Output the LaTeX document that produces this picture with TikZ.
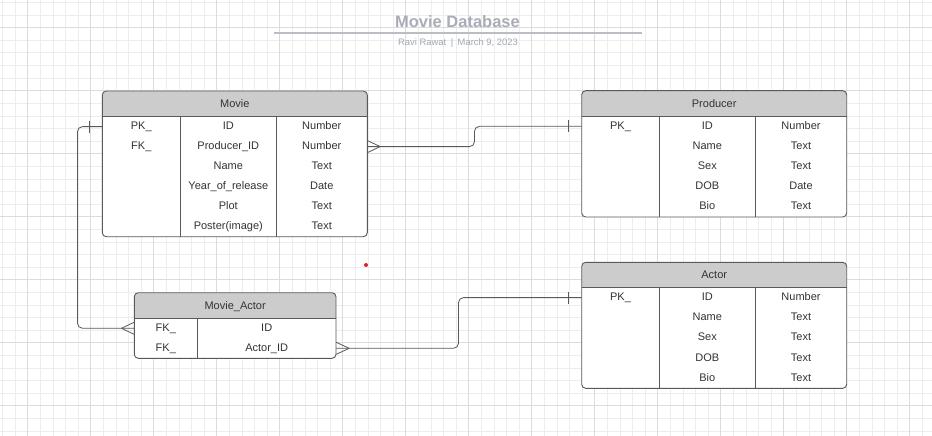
\documentclass[tikz,border=0pt]{standalone}
\usepackage{fontspec}
\setmainfont{Liberation Sans}
\usetikzlibrary{calc,fit}
\definecolor{gridminor}{HTML}{EDEDED}
\definecolor{gridmajor}{HTML}{DCDCDC}
\definecolor{hdr}{HTML}{CCCCCC}
\definecolor{edge}{HTML}{595959}
\definecolor{txt}{HTML}{333333}
\definecolor{ttl}{HTML}{A8ADB6}
\definecolor{ttlrule}{HTML}{B9BDC4}
\definecolor{subttl}{HTML}{A3A7AE}
\definecolor{dotred}{HTML}{E51E1E}
\tikzset{
  cell/.style={text=txt, font=\fontsize{11}{13}\selectfont, anchor=base, inner sep=0pt},
  conn/.style={draw=edge, line width=0.8pt},
  tblline/.style={draw=edge, line width=0.8pt},
  tblbox/.style={draw=edge, line width=0.9pt, rounded corners=4pt},
  minorgrid/.style={draw=gridminor, line width=0.8pt},
  majorgrid/.style={draw=gridmajor, line width=0.9pt},
}
% name, L, T, R, B, header bottom, dividers, title
\newcommand\ertable[8]{%
  \coordinate (#1-nw) at (#2,#3);
  \coordinate (#1-se) at (#4,#5);
  \node[fit=(#1-nw)(#1-se), inner sep=0pt] (#1) {};
  \fill[white, rounded corners=4pt] (#2,#3) rectangle (#4,#5);
  \begin{scope}
    \clip[rounded corners=4pt] (#2,#3) rectangle (#4,#5);
    \fill[hdr] (#2,#3) rectangle (#4,#6);
  \end{scope}
  \draw[tblline] (#2,#6) -- (#4,#6);
  \foreach \d in {#7} {\draw[tblline] (\d,#6) -- (\d,#5);}
  \draw[tblbox] (#2,#3) rectangle (#4,#5);
  \node[cell] (#1-title) at ({(#2+#4)/2},{(#3+#6)/2+4}) {#8};
}
\begin{document}
\begin{tikzpicture}[x=1pt,y=-1pt]
\useasboundingbox (0,0) rectangle (932,436);
\fill[white] (0,0) rectangle (932,436);
% grid
\foreach \k in {0,...,73} {\draw[minorgrid] ({2.5+12.6*\k},0) -- ({2.5+12.6*\k},436);}
\foreach \k in {0,...,34} {\draw[minorgrid] (0,{2.5+12.6*\k}) -- (932,{2.5+12.6*\k});}
\foreach \k in {0,...,14} {\draw[majorgrid] ({27.5+63*\k},0) -- ({27.5+63*\k},436);}
\foreach \k in {0,...,6} {\draw[majorgrid] (0,{27.5+63*\k}) -- (932,{27.5+63*\k});}

% title block
\node[font=\bfseries\fontsize{16.5}{19}\selectfont, text=ttl, anchor=base, inner sep=0pt] (title) at (457.5,27.6) {Movie Database};
\draw[ttlrule, line width=2pt] (274,32.7) -- (641.7,32.7);
\node[font=\fontsize{9.4}{11}\selectfont, text=subttl, anchor=base, inner sep=0pt] (subtitle) at (458,46) {Ravi Rawat\hspace{4.5pt}|\hspace{4.5pt}March 9, 2023};

% tables
\ertable{movie}{102.3}{91}{367.3}{236.7}{116}{180.3,276.3}{Movie}
\ertable{producer}{581.7}{90.7}{846.7}{217}{116.7}{659.3,755.3}{Producer}
\ertable{actor}{581.7}{262.3}{846.7}{388.3}{287.3}{659.3,755.3}{Actor}
\ertable{movieactor}{134.3}{292.7}{336}{358.3}{318.3}{197.3}{Movie\_Actor}

% Movie rows
\foreach \b/\c [count=\i] in {ID/Number, Producer\_ID/Number, Name/Text, Year\_of\_release/Date, Plot/Text, Poster(image)/Text} {
  \node[cell] (movie-b\i) at (228.3,{116+20.1*(\i-0.5)+3}) {\b};
  \node[cell] (movie-c\i) at (321.8,{116+20.1*(\i-0.5)+3}) {\c};
}
\node[cell] (movie-a1) at (141.3,{116+20.1*0.5+3}) {PK\_};
\node[cell] (movie-a2) at (141.3,{116+20.1*1.5+3}) {FK\_};

% Producer rows
\foreach \b/\c [count=\i] in {ID/Number, Name/Text, Sex/Text, DOB/Date, Bio/Text} {
  \node[cell] (producer-b\i) at (707.3,{116.7+20.06*(\i-0.5)+3}) {\b};
  \node[cell] (producer-c\i) at (801,{116.7+20.06*(\i-0.5)+3}) {\c};
}
\node[cell] (producer-a1) at (620.5,{116.7+20.06*0.5+3}) {PK\_};

% Actor rows
\foreach \b/\c [count=\i] in {ID/Number, Name/Text, Sex/Text, DOB/Text, Bio/Text} {
  \node[cell] (actor-b\i) at (707.3,{287.3+20.2*(\i-0.5)+3}) {\b};
  \node[cell] (actor-c\i) at (801,{287.3+20.2*(\i-0.5)+3}) {\c};
}
\node[cell] (actor-a1) at (620.5,{287.3+20.2*0.5+3}) {PK\_};

% Movie_Actor rows
\node[cell] (movieactor-a1) at (165.8,{318.3+10+3}) {FK\_};
\node[cell] (movieactor-b1) at (266.7,{318.3+10+3}) {ID};
\node[cell] (movieactor-a2) at (165.8,{318.3+30+3}) {FK\_};
\node[cell] (movieactor-b2) at (266.7,{318.3+30+3}) {Actor\_ID};

% row reference coordinates
\coordinate (movie-r1) at (0,126.6);
\coordinate (movie-r2) at (0,146.6);
\coordinate (producer-r1) at (0,126.3);
\coordinate (actor-r1) at (0,297.6);
\coordinate (ma-r1) at (0,328.3);
\coordinate (ma-r2) at (0,348.3);
\coordinate (bend1) at (77.5,0);
\coordinate (bend2) at (474.5,0);
\coordinate (bend3) at (458.5,0);

% connector 1: Movie.ID -> Movie_Actor.ID
\coordinate (s1) at (movie.west |- movie-r1);
\coordinate (t1) at (movieactor.west |- ma-r1);
\draw[conn, rounded corners=5pt] (s1) -- (s1 -| bend1) -- (bend1 |- t1) -- (t1);
\draw[conn] ($(s1)+(-13,-6)$) -- ($(s1)+(-13,6)$);
\draw[conn] ($(t1)+(-12.6,0)$) -- ($(t1)+(0,-6)$);
\draw[conn] ($(t1)+(-12.6,0)$) -- ($(t1)+(0,6)$);

% connector 2: Movie.Producer_ID -> Producer.ID
\coordinate (s2) at (movie.east |- movie-r2);
\coordinate (t2) at (producer.west |- producer-r1);
\draw[conn, rounded corners=5pt] (s2) -- (s2 -| bend2) -- (bend2 |- t2) -- (t2);
\draw[conn] ($(s2)+(12.7,0)$) -- ($(s2)+(0,-6)$);
\draw[conn] ($(s2)+(12.7,0)$) -- ($(s2)+(0,6)$);
\draw[conn] ($(t2)+(-13,-6)$) -- ($(t2)+(-13,6)$);

% connector 3: Movie_Actor.Actor_ID -> Actor.ID
\coordinate (s3) at (movieactor.east |- ma-r2);
\coordinate (t3) at (actor.west |- actor-r1);
\draw[conn, rounded corners=5pt] (s3) -- (s3 -| bend3) -- (bend3 |- t3) -- (t3);
\draw[conn] ($(s3)+(13,0)$) -- ($(s3)+(0,-6)$);
\draw[conn] ($(s3)+(13,0)$) -- ($(s3)+(0,6)$);
\draw[conn] ($(t3)+(-13,-6)$) -- ($(t3)+(-13,6)$);

% red dot
\fill[dotred] (366,265) circle (2);
\end{tikzpicture}
\end{document}
